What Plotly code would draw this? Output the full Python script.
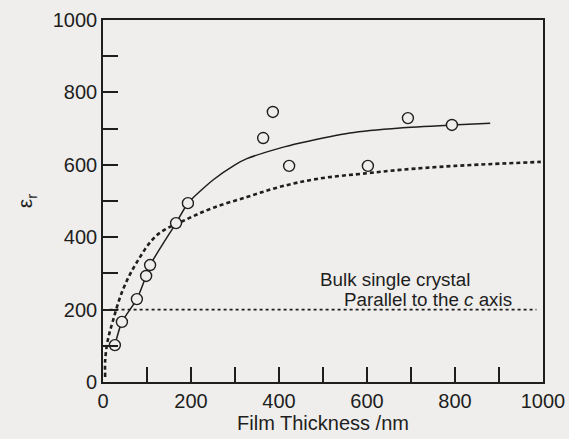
import plotly.graph_objects as go

# Measured points (film thickness nm, epsilon_r)
thickness = [27, 43, 77, 98, 107, 166, 193, 364, 386, 423, 602, 693, 793]
eps_r = [102, 166, 229, 293, 323, 439, 494, 674, 746, 597, 597, 729, 710]

fit_x = [27, 43, 77, 98, 107, 166, 193, 250, 300, 327, 402, 448, 561, 675, 793, 880]
fit_y = [102, 166, 229, 293, 323, 439, 494, 558, 600, 617, 646, 660, 688, 702, 710, 715]

dot_x = [5, 5, 11, 23, 45, 77, 123, 191, 250, 327, 402, 486, 602, 675, 800, 995]
dot_y = [14, 61, 116, 171, 254, 331, 406, 450, 481, 511, 539, 561, 577, 586, 597, 608]

# Bulk single crystal level
bulk_x = [15, 985]
bulk_y = [200, 200]

x_ticks = [0, 200, 400, 600, 800, 1000]
y_ticks = [0, 200, 400, 600, 800, 1000]

BG = "#efeeec"
INK = "#1e1e1e"
FONT = "Liberation Sans, Arial, sans-serif"

fig = go.Figure()
fig.add_trace(go.Scatter(x=bulk_x, y=bulk_y, mode="lines",
                         line=dict(color=INK, width=1.6, dash="3px,3px"), showlegend=False))
fig.add_trace(go.Scatter(x=dot_x, y=dot_y, mode="lines", line_shape="spline",
                         line=dict(color=INK, width=2.6, dash="4px,3px"), showlegend=False))
fig.add_trace(go.Scatter(x=fit_x, y=fit_y, mode="lines", line_shape="spline",
                         line=dict(color=INK, width=1.5, smoothing=0.6), showlegend=False))
fig.add_trace(go.Scatter(x=thickness, y=eps_r, mode="markers",
                         marker=dict(symbol="circle", size=11, color=BG,
                                     line=dict(color=INK, width=1.4)), showlegend=False))

fig.add_annotation(x=489, y=282, xref="x", yref="y", text="Bulk single crystal",
                   showarrow=False, xanchor="left", yanchor="middle",
                   font=dict(family=FONT, size=18.8, color=INK))
fig.add_annotation(x=543, y=228, xref="x", yref="y", text="Parallel to the <i>c</i> axis",
                   showarrow=False, xanchor="left", yanchor="middle",
                   font=dict(family=FONT, size=18.8, color=INK))

axis_common = dict(showgrid=False, zeroline=False, showline=True, linecolor=INK, linewidth=1.6,
                   mirror=True, ticks="inside", ticklen=15, tickwidth=1.5, tickcolor=INK,
                   automargin=False,
                   tickfont=dict(family=FONT, size=20, color=INK),
                   minor=dict(ticks="inside", ticklen=15, tickwidth=1.5, tickcolor=INK, dtick=100))

fig.update_xaxes(range=[0, 1000], tickvals=x_ticks, ticktext=[str(v) for v in x_ticks],
                 ticklabelstandoff=0,
                 title=dict(text="Film Thickness /nm", font=dict(family=FONT, size=20, color=INK), standoff=2),
                 **axis_common)
fig.update_yaxes(range=[0, 1000], tickvals=y_ticks, ticktext=[str(v) for v in y_ticks],
                 title=dict(text="ε<sub>r</sub>", font=dict(family=FONT, size=21, color=INK), standoff=14),
                 **axis_common)

fig.update_layout(width=569, height=439, margin=dict(l=103, r=26, t=20, b=57),
                  paper_bgcolor=BG, plot_bgcolor=BG, font=dict(family=FONT, color=INK))

fig.write_html("out.html")
